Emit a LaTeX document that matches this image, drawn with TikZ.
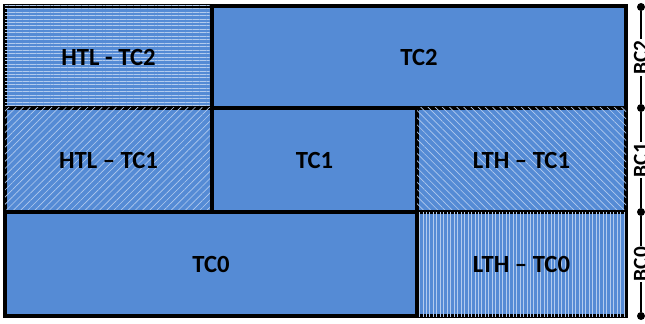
\documentclass[tikz,border=0pt]{standalone}
\usepackage{fontspec}
\setmainfont{Carlito}
\usetikzlibrary{patterns.meta}
\definecolor{cellblue}{RGB}{85,139,213}
\definecolor{hatch}{RGB}{178,203,238}
\tikzstyle{cell} = [draw=black, line width=2.3pt, fill=cellblue, inner sep=0pt, font=\fontsize{18.5}{20}\selectfont\bfseries]
\tikzstyle{hlines} = [postaction={pattern={Lines[angle=0, distance=2.6pt, line width=0.6pt]}, pattern color=hatch}]
\tikzstyle{vlines} = [postaction={pattern={Lines[angle=90, distance=2.6pt, line width=0.6pt]}, pattern color=hatch}]
\tikzstyle{nelines} = [postaction={pattern={Lines[angle=45, distance=3.8pt, line width=0.5pt]}, pattern color=hatch}]
\tikzstyle{nwlines} = [postaction={pattern={Lines[angle=-45, distance=3.8pt, line width=0.5pt]}, pattern color=hatch}]
\tikzstyle{bcdot} = [fill=black, circle, inner sep=0pt, minimum size=6pt]
\tikzstyle{bclabel} = [fill=white, rotate=90, inner sep=1pt, font=\fontsize{16}{18}\selectfont\bfseries]

\begin{document}
\begin{tikzpicture}[x=0.75pt, y=-0.75pt]
  \useasboundingbox (0,0) rectangle (645,324);
  % top row
  \node[cell, hlines, minimum width=155.25pt, minimum height=76.5pt] (htl2) at (108.5,57) {HTL - TC2};
  \node[cell, minimum width=310.5pt, minimum height=76.5pt] (tc2) at (419,57) {TC2};
  % middle row
  \node[cell, nelines, minimum width=155.25pt, minimum height=78pt] (htl1) at (108.5,160) {HTL -- TC1};
  \node[cell, minimum width=153.75pt, minimum height=78pt] (tc1) at (314.5,160) {TC1};
  \node[cell, nwlines, minimum width=156.75pt, minimum height=78pt] (lth1) at (521.5,160) {LTH -- TC1};
  % bottom row
  \node[cell, minimum width=309pt, minimum height=78pt] (tc0) at (211,264) {TC0};
  \node[cell, vlines, minimum width=156.75pt, minimum height=78pt] (lth0) at (521.5,264) {LTH -- TC0};

  % BC scale
  \node[bcdot] (b3) at (641,7) {};
  \node[bcdot] (b2) at (641,108) {};
  \node[bcdot] (b1) at (641,212) {};
  \node[bcdot] (b0) at (641,316) {};
  \draw[line width=1.5pt] (b3) -- node[bclabel] {BC2} (b2);
  \draw[line width=1.5pt] (b2) -- node[bclabel] {BC1} (b1);
  \draw[line width=1.5pt] (b1) -- node[bclabel] {BC0} (b0);
\end{tikzpicture}
\end{document}
